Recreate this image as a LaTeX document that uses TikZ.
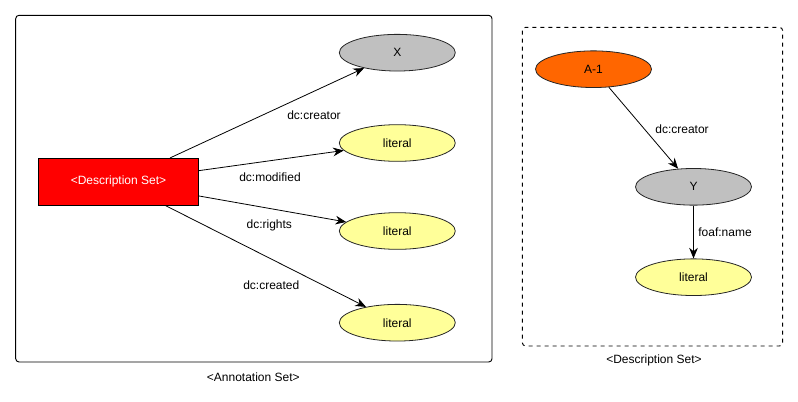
\documentclass[tikz,border=0pt]{standalone}
\usepackage{fontspec}
\setmainfont{Liberation Sans}
\usetikzlibrary{shapes.geometric,arrows.meta}
\definecolor{ellgray}{HTML}{C0C0C0}
\definecolor{ellyellow}{HTML}{FFFF99}
\definecolor{ellorange}{HTML}{FF6600}
\definecolor{boxred}{HTML}{FF0000}
\begin{document}
\begin{tikzpicture}[x=0.75pt,y=-0.75pt,
  every node/.style={font=\fontsize{9}{11}\selectfont},
  ell/.style={ellipse,draw=black!85,line width=0.6pt,minimum width=87pt,minimum height=27.5pt,inner sep=0pt},
  resbox/.style={rectangle,draw=black,line width=0.8pt,fill=boxred,text=white,minimum width=120pt,minimum height=35pt,inner sep=0pt},
  arc/.style={draw=black,line width=0.6pt,-{Stealth[length=8pt,width=6.5pt]}},
  lbl/.style={inner sep=0pt}]
\useasboundingbox (0,0) rectangle (798,401);
% frames
\draw[black,line width=0.7pt,rounded corners=2.5pt] (15.7,15.3) rectangle (492,362);
\node[lbl] (annlbl) at (253.3,376.7) {<Annotation Set>};
\draw[black,line width=0.7pt,dashed,rounded corners=2.5pt] (522.3,27.3) rectangle (782.7,346);
\node[lbl] (desclbl) at (654,360.7) {<Description Set>};
% left nodes
\node[resbox] (ds) at (118.5,181.8) {<Description Set>};
\node[ell,fill=ellgray] (x) at (397.3,52.7) {X};
\node[ell,fill=ellyellow] (l1) at (397.3,143) {literal};
\node[ell,fill=ellyellow] (l2) at (397.3,231) {literal};
\node[ell,fill=ellyellow] (l3) at (397.3,322.7) {literal};
\draw[arc] (ds) -- (x);
\draw[arc] (ds) -- (l1);
\draw[arc] (ds) -- (l2);
\draw[arc] (ds) -- (l3);
\node[lbl] (t1) at (314,115.7) {dc:creator};
\node[lbl] (t2) at (270,177.7) {dc:modified};
\node[lbl] (t3) at (269.3,225) {dc:rights};
\node[lbl] (t4) at (271.3,284.7) {dc:created};
% right nodes
\node[ell,fill=ellorange] (a1) at (593.5,69.2) {A-1};
\node[ell,fill=ellgray] (y) at (693.5,186.8) {Y};
\node[ell,fill=ellyellow] (l4) at (693.5,277.2) {literal};
\draw[arc] (a1) -- (y);
\draw[arc] (y) -- (l4);
\node[lbl] (t5) at (682,129) {dc:creator};
\node[lbl] (t6) at (725,232.7) {foaf:name};
\end{tikzpicture}
\end{document}
